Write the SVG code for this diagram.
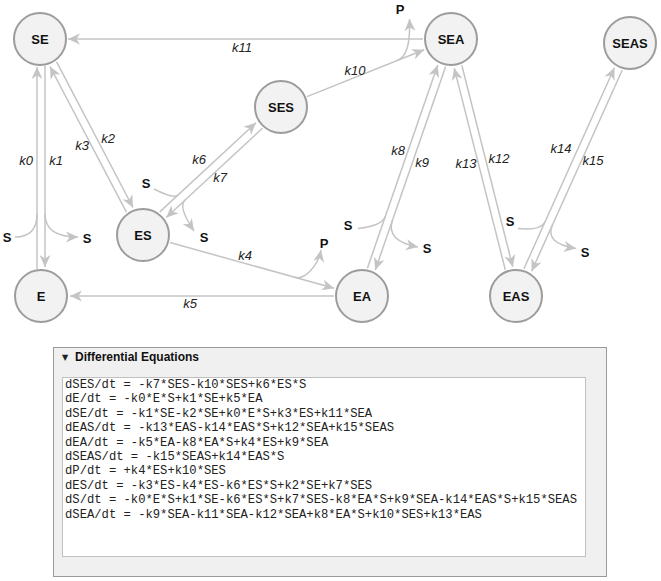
<svg xmlns="http://www.w3.org/2000/svg" width="661" height="581" viewBox="0 0 661 581">
<style>
.node circle{fill:#f2f2f2;stroke:#9c9c9c;stroke-width:2}
.node text{font-family:"Liberation Sans",Arial,sans-serif;font-weight:bold;font-size:13px;text-anchor:middle;fill:#111}
.edge{fill:none;stroke:#c4c4c4;stroke-width:1.5}
.arr{marker-end:url(#ah)}
.kl{font-family:"Liberation Sans",Arial,sans-serif;font-style:italic;font-size:13px;text-anchor:middle;fill:#222}
.sp{font-family:"Liberation Sans",Arial,sans-serif;font-weight:bold;font-size:13px;text-anchor:middle;fill:#111}
.eq{font-family:"Liberation Mono","Courier New",monospace;font-size:12.2px;fill:#222}
.hd{font-family:"Liberation Sans",Arial,sans-serif;font-weight:bold;font-size:12px;fill:#111}
</style>
<defs>
<marker id="ah" viewBox="-13 -6 14 12" refX="0" refY="0" markerWidth="14" markerHeight="12" markerUnits="userSpaceOnUse" orient="auto"><path d="M0,0 L-12,-5.5 L-8.5,0 L-12,5.5 Z" fill="#c4c4c4"/></marker>
</defs>
<g id="connectors">
<path class="edge arr" d="M37,269 L37,67"/>
<path class="edge arr" d="M45,66 L45,267"/>
<path class="edge" d="M15,237 Q37,237 37,214"/>
<path class="edge arr" d="M45,214 Q45,237 78,237"/>
<path class="edge arr" d="M56.6,61.9 L133,207.5"/>
<path class="edge arr" d="M126.4,212.1 L50,66.5"/>
<path class="edge arr" d="M159.8,211.9 L256,122.7"/>
<path class="edge arr" d="M262.5,128.2 L166.3,217.5"/>
<path class="edge" d="M154,189 Q173.6,199.1 178,195"/>
<path class="edge arr" d="M185,200.1 Q177.7,206.9 194,231"/>
<path class="edge arr" d="M307,96.6 L424.1,49.8"/>
<path class="edge arr" d="M397,60.6 C406.3,56.9 410.5,45 409.5,19"/>
<path class="edge arr" d="M423,39 L68,39"/>
<path class="edge arr" d="M170,242.5 L334.1,288.2"/>
<path class="edge arr" d="M295,277.3 C304.6,280 318,266 321,250"/>
<path class="edge arr" d="M334,296 L70,296"/>
<path class="edge arr" d="M367.4,268.2 L437.7,65.1"/>
<path class="edge arr" d="M445.6,66.8 L375.3,269.9"/>
<path class="edge" d="M358,228.5 Q382.1,225.7 385.4,216.2"/>
<path class="edge arr" d="M392.5,220 Q385.3,240.8 418,247"/>
<path class="edge arr" d="M461.8,65.2 L512.8,266.9"/>
<path class="edge arr" d="M505.3,269.8 L454.2,68.1"/>
<path class="edge arr" d="M523.9,268.8 L614.4,67.8"/>
<path class="edge arr" d="M622.2,70.2 L531.6,271.2"/>
<path class="edge" d="M518,228.5 Q541,230.8 545.1,221.7"/>
<path class="edge arr" d="M552.4,225 Q544.2,243.2 576,248.5"/>
<text class="kl" x="26" y="165">k0</text>
<text class="kl" x="56" y="165">k1</text>
<text class="kl" x="82" y="150">k3</text>
<text class="kl" x="108" y="143">k2</text>
<text class="kl" x="199" y="164">k6</text>
<text class="kl" x="220" y="182">k7</text>
<text class="kl" x="242" y="52">k11</text>
<text class="kl" x="355" y="75">k10</text>
<text class="kl" x="245" y="260">k4</text>
<text class="kl" x="190" y="308">k5</text>
<text class="kl" x="398" y="155">k8</text>
<text class="kl" x="422" y="167">k9</text>
<text class="kl" x="466" y="168">k13</text>
<text class="kl" x="499" y="163">k12</text>
<text class="kl" x="561" y="153">k14</text>
<text class="kl" x="593" y="165">k15</text>
<text class="sp" x="7" y="242">S</text>
<text class="sp" x="87" y="243">S</text>
<text class="sp" x="146" y="188">S</text>
<text class="sp" x="204" y="242">S</text>
<text class="sp" x="348" y="230">S</text>
<text class="sp" x="427" y="253">S</text>
<text class="sp" x="510" y="226">S</text>
<text class="sp" x="585" y="257">S</text>
<text class="sp" x="400" y="14">P</text>
<text class="sp" x="324" y="248">P</text>
</g>
<g id="SE" class="node"><circle cx="40" cy="39" r="26"/><text x="40" y="43.5">SE</text></g>
<g id="E" class="node"><circle cx="41" cy="296" r="26"/><text x="41" y="300.5">E</text></g>
<g id="ES" class="node"><circle cx="143" cy="235" r="26"/><text x="143" y="239.5">ES</text></g>
<g id="SES" class="node"><circle cx="281" cy="107" r="26"/><text x="281" y="111.5">SES</text></g>
<g id="SEA" class="node"><circle cx="451" cy="39" r="26"/><text x="451" y="43.5">SEA</text></g>
<g id="SEAS" class="node"><circle cx="630" cy="43" r="26"/><text x="630" y="47.5">SEAS</text></g>
<g id="EA" class="node"><circle cx="362" cy="296" r="26"/><text x="362" y="300.5">EA</text></g>
<g id="EAS" class="node"><circle cx="516" cy="296" r="26"/><text x="516" y="300.5">EAS</text></g>
<g id="equations">
<rect x="53.5" y="347.5" width="553" height="229" fill="#f0f0f0" stroke="#9a9a9a"/>
<text x="62" y="360" font-family="DejaVu Sans,sans-serif" font-size="8" fill="#222">▼</text>
<text class="hd" x="75" y="360.5">Differential Equations</text>
<rect x="62.5" y="377.5" width="523" height="179" fill="#ffffff" stroke="#c0c0c0"/>
<text class="eq" x="65" y="388">dSES/dt = -k7*SES-k10*SES+k6*ES*S</text>
<text class="eq" x="65" y="402.4">dE/dt = -k0*E*S+k1*SE+k5*EA</text>
<text class="eq" x="65" y="416.8">dSE/dt = -k1*SE-k2*SE+k0*E*S+k3*ES+k11*SEA</text>
<text class="eq" x="65" y="431.2">dEAS/dt = -k13*EAS-k14*EAS*S+k12*SEA+k15*SEAS</text>
<text class="eq" x="65" y="445.6">dEA/dt = -k5*EA-k8*EA*S+k4*ES+k9*SEA</text>
<text class="eq" x="65" y="460">dSEAS/dt = -k15*SEAS+k14*EAS*S</text>
<text class="eq" x="65" y="474.4">dP/dt = +k4*ES+k10*SES</text>
<text class="eq" x="65" y="488.8">dES/dt = -k3*ES-k4*ES-k6*ES*S+k2*SE+k7*SES</text>
<text class="eq" x="65" y="503.2">dS/dt = -k0*E*S+k1*SE-k6*ES*S+k7*SES-k8*EA*S+k9*SEA-k14*EAS*S+k15*SEAS</text>
<text class="eq" x="65" y="517.6">dSEA/dt = -k9*SEA-k11*SEA-k12*SEA+k8*EA*S+k10*SES+k13*EAS</text>
</g>
</svg>
